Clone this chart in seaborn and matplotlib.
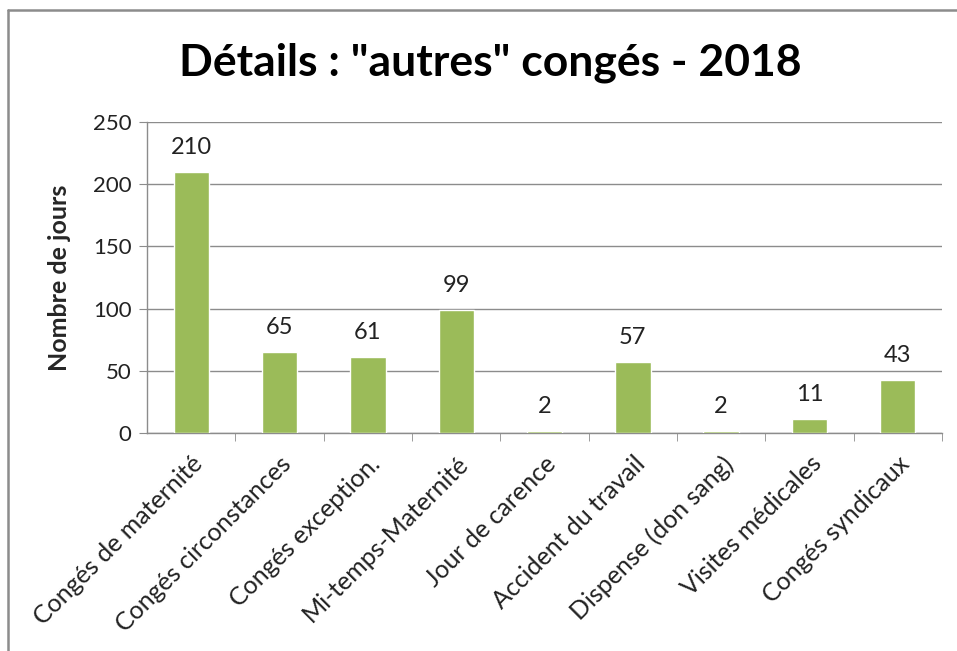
import matplotlib
matplotlib.use("Agg")
import matplotlib.pyplot as plt
from matplotlib.lines import Line2D
import seaborn as sns
import pandas as pd

categories = [
    "Congés de maternité",
    "Congés circonstances",
    "Congés exception.",
    "Mi-temps-Maternité",
    "Jour de carence",
    "Accident du travail",
    "Dispense (don sang)",
    "Visites médicales",
    "Congés syndicaux",
]
jours = [210, 65, 61, 99, 2, 57, 2, 11, 43]
y_ticks = [0, 50, 100, 150, 200, 250]

sns.set_style("white")
plt.rcParams["font.family"] = ["Lato", "DejaVu Sans"]

df = pd.DataFrame({"categorie": categories, "jours": jours})

fig = plt.figure(figsize=(9.57, 6.51), dpi=100)
ax = fig.add_axes([147 / 957, 1 - 433 / 651, (942 - 147) / 957, (433 - 122) / 651])

sns.barplot(data=df, x="categorie", y="jours", color="#9BBB59", width=0.4,
            saturation=1, ax=ax, zorder=3)

ax.bar_label(ax.containers[0], labels=[str(v) for v in jours], padding=10,
             fontsize=17, color="#222222")

ax.set_ylim(0, 250)
ax.set_yticks(y_ticks)
ax.set_xlim(-0.5, len(categories) - 0.5)
ax.yaxis.grid(True, color="#8c8c8c", linewidth=1, zorder=0)
ax.set_axisbelow(True)

for s in ["top", "right"]:
    ax.spines[s].set_visible(False)
for s in ["left", "bottom"]:
    ax.spines[s].set_color("#8c8c8c")
    ax.spines[s].set_linewidth(1)

ax.tick_params(axis="y", left=True, length=6, color="#8c8c8c", labelsize=16,
               labelcolor="#222222", pad=5)
ax.set_xticks([i + 0.5 for i in range(len(categories))], minor=True)
ax.tick_params(axis="x", which="minor", bottom=True, length=6, color="#8c8c8c")
ax.tick_params(axis="x", which="major", bottom=False, labelsize=18,
               labelcolor="#222222", pad=10)
ax.set_xticklabels(categories, rotation=45, ha="right", rotation_mode="anchor")

ax.set_xlabel("")
ax.set_ylabel("Nombre de jours", fontsize=18, fontweight="bold")
ax.yaxis.set_label_coords(-(147 - 71) / 795, 0.5)

fig.text(490 / 957, 1 - 63 / 651, 'Détails : "autres" congés - 2018', ha="center",
         va="center", fontsize=32, fontweight="bold", color="black")

# cadre du graphique
fig.add_artist(Line2D([8 / 957, 8 / 957], [0, 1 - 10 / 651],
                      transform=fig.transFigure, color="#8c8c8c", linewidth=1.8))
fig.add_artist(Line2D([8 / 957, 1], [1 - 10 / 651, 1 - 10 / 651],
                      transform=fig.transFigure, color="#8c8c8c", linewidth=1.8))

fig.savefig("out.png", dpi=100)
